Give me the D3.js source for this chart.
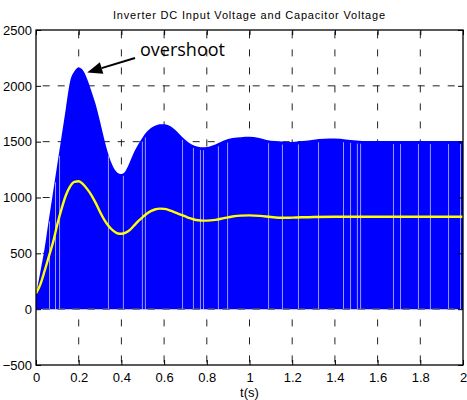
<!DOCTYPE html>
<html><head><meta charset="utf-8">
<script src="https://cdn.jsdelivr.net/npm/d3@7"></script>
<style>body{margin:0;background:#fff}svg{display:block}</style>
</head><body>
<svg id="c" width="467" height="400"></svg>
<script>
// Upper envelope of the inverter DC input voltage (blue band, lower edge 0)
const envT = [0,0.02,0.04,0.06,0.08,0.1,0.12,0.14,0.16,0.18,0.2,0.22,0.24,0.26,0.28,0.3,0.32,0.34,0.36,0.38,0.4,0.42,0.44,0.46,0.48,0.5,0.52,0.54,0.56,0.58,0.6,0.62,0.64,0.66,0.68,0.7,0.72,0.74,0.76,0.78,0.8,0.84,0.88,0.92,0.96,1.0,1.04,1.08,1.12,1.16,1.2,1.25,1.3,1.35,1.4,1.45,1.5,1.56,1.6,1.7,1.8,1.9,2.0];
const envV = [130,330,540,800,1050,1300,1550,1800,2040,2130,2165,2140,2060,1950,1830,1680,1520,1380,1280,1225,1210,1240,1320,1410,1480,1540,1590,1625,1645,1655,1656,1648,1625,1590,1550,1515,1485,1465,1455,1450,1452,1475,1510,1532,1540,1543,1535,1515,1505,1500,1498,1505,1518,1526,1528,1520,1510,1505,1505,1505,1505,1505,1505];
// Capacitor voltage (yellow)
const capT = [0,0.02,0.04,0.06,0.08,0.1,0.12,0.14,0.16,0.18,0.2,0.22,0.24,0.26,0.28,0.3,0.32,0.34,0.36,0.38,0.4,0.42,0.44,0.46,0.48,0.5,0.52,0.54,0.56,0.58,0.6,0.62,0.64,0.66,0.68,0.7,0.72,0.74,0.76,0.78,0.8,0.84,0.88,0.92,0.96,1.0,1.05,1.1,1.15,1.2,1.3,1.4,1.5,1.6,1.7,1.8,1.9,2.0];
const capV = [140,220,340,470,600,760,900,1020,1100,1140,1145,1120,1075,1020,950,870,800,745,705,680,675,685,710,750,790,825,857,880,895,900,898,890,875,860,845,830,815,803,796,793,793,800,815,830,838,840,835,825,818,820,826,828,828,828,828,828,828,828];
// White switching gaps inside the blue band
const gapT = [0.061,0.089,0.108,0.337,0.407,0.496,0.51,0.684,0.735,0.768,0.782,0.852,0.895,1.087,1.152,1.227,1.321,1.438,1.471,1.503,1.518,1.672,1.705,1.789,1.845,1.93,1.986];
const xTicks = [0,0.2,0.4,0.6,0.8,1,1.2,1.4,1.6,1.8,2];
const yTicks = [-500,0,500,1000,1500,2000,2500];
const titleText = "Inverter DC Input Voltage and Capacitor Voltage";
const xLabel = "t(s)";
const annotText = "overshoot";

const svg = d3.select("#c");
const L = 36, R = 463, T = 30, B = 365;
const x = d3.scaleLinear().domain([0,2]).range([L,R]);
const y = d3.scaleLinear().domain([-500,2500]).range([B,T]);
const font = "'Liberation Sans', Arial, sans-serif";

// grid
const g = svg.append("g");
g.selectAll(".gx").data(xTicks.slice(1,-1)).enter().append("line")
  .attr("x1",d=>x(d)).attr("x2",d=>x(d)).attr("y1",T).attr("y2",B)
  .attr("stroke","#222").attr("stroke-width",1).attr("stroke-dasharray","7,11").attr("stroke-dashoffset",16.6);
g.selectAll(".gy").data(yTicks.slice(1,-1)).enter().append("line")
  .attr("y1",d=>y(d)).attr("y2",d=>y(d)).attr("x1",L).attr("x2",R)
  .attr("stroke","#222").attr("stroke-width",1).attr("stroke-dasharray","7,8").attr("stroke-dashoffset",8.3);

// blue band
const env = envT.map((t,i)=>[t,envV[i]]);
svg.append("path").datum(env)
  .attr("d", d3.area().x(d=>x(d[0])).y0(y(0)).y1(d=>y(d[1])).curve(d3.curveMonotoneX))
  .attr("fill","#0000ff");
const envAt = t => d3.scaleLinear().domain(envT).range(envV)(t);
svg.selectAll(".gap").data(gapT).enter().append("line")
  .attr("x1",d=>x(d)+0.5).attr("x2",d=>x(d)+0.5)
  .attr("y1",y(0)).attr("y2",d=>y(envAt(d))+3)
  .attr("stroke","#fff").attr("stroke-opacity",0.6).attr("stroke-width",1);

// grey dashes at 0 over band edge
svg.append("line").attr("x1",L).attr("x2",R).attr("y1",y(0)).attr("y2",y(0))
  .attr("stroke","#777").attr("stroke-width",1.2).attr("stroke-dasharray","7,8").attr("stroke-dashoffset",8.3);

// yellow line
const cap = capT.map((t,i)=>[t,capV[i]]);
svg.append("path").datum(cap)
  .attr("d", d3.line().x(d=>x(d[0])).y(d=>y(d[1])).curve(d3.curveMonotoneX))
  .attr("fill","none").attr("stroke","#ffff00").attr("stroke-width",2.4);

// axes box
svg.append("rect").attr("x",L).attr("y",T).attr("width",R-L).attr("height",B-T)
  .attr("fill","none").attr("stroke","#000").attr("stroke-width",1.3);

const ax = svg.append("g").attr("transform",`translate(0,${B})`)
  .call(d3.axisBottom(x).tickValues(xTicks).tickSize(-5).tickPadding(8).tickFormat(d3.format("")));
const axT = svg.append("g").attr("transform",`translate(0,${T})`)
  .call(d3.axisTop(x).tickValues(xTicks).tickSize(-5).tickFormat(""));
const ay = svg.append("g").attr("transform",`translate(${L},0)`)
  .call(d3.axisLeft(y).tickValues(yTicks).tickSize(-5).tickPadding(4).tickFormat(d3.format("")));
const ayR = svg.append("g").attr("transform",`translate(${R},0)`)
  .call(d3.axisRight(y).tickValues(yTicks).tickSize(-5).tickFormat(""));
[ax,axT,ay,ayR].forEach(a=>{
  a.select(".domain").remove();
  a.selectAll("line").attr("stroke","#000");
  a.selectAll("text").attr("font-family",font).attr("font-size",13).attr("fill","#000");
});

// title and label
svg.append("text").attr("x",249).attr("y",19).attr("text-anchor","middle")
  .attr("font-family",font).attr("font-size",11)
  .attr("textLength",272).attr("lengthAdjust","spacing").text(titleText);
svg.append("text").attr("x",x(1)).attr("y",397).attr("text-anchor","middle")
  .attr("font-family",font).attr("font-size",13).text(xLabel);

// annotation
svg.append("text").attr("x",140).attr("y",56)
  .attr("font-family","'Open Sans', sans-serif").attr("font-size",18).text(annotText);
const tip = [x(0.24), y(2120)], tail = [135,58];
const ang = Math.atan2(tail[1]-tip[1], tail[0]-tip[0]);
const hl = 15, hw = 6;
const bx = tip[0]+hl*Math.cos(ang), by = tip[1]+hl*Math.sin(ang);
svg.append("line").attr("x1",tail[0]).attr("y1",tail[1]).attr("x2",bx).attr("y2",by)
  .attr("stroke","#000").attr("stroke-width",2);
svg.append("path").attr("d",
  `M${tip[0]},${tip[1]} L${bx - hw*Math.sin(ang)},${by + hw*Math.cos(ang)} L${bx + hw*Math.sin(ang)},${by - hw*Math.cos(ang)} Z`)
  .attr("fill","#000");
</script>
</body></html>
